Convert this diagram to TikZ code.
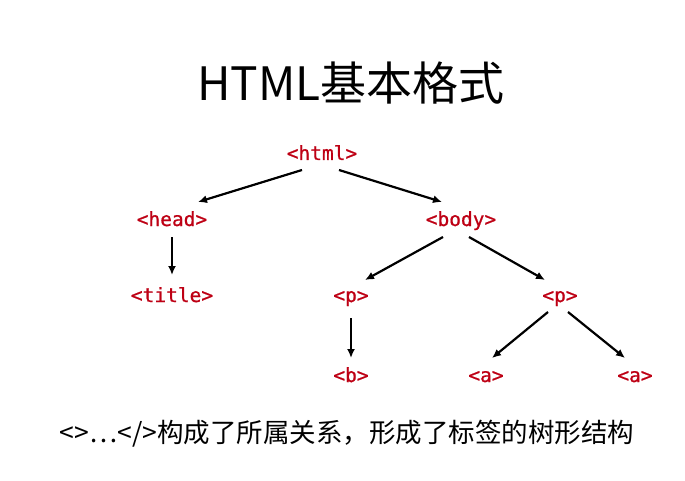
\documentclass[tikz,border=0pt]{standalone}
\usepackage{fontspec}
\setmainfont{Noto Sans CJK SC}
\newfontfamily\tagfont[FakeBold=0.8]{DejaVu Sans Mono}
\usetikzlibrary{arrows.meta}
\definecolor{tagred}{RGB}{190,0,20}
\begin{document}
\begin{tikzpicture}[x=1pt,y=-1pt,
  tag/.style={anchor=base,inner sep=0pt,text=tagred,font=\tagfont\fontsize{19.5}{22}\selectfont},
  arr/.style={line width=2.2pt,-{Latex[length=9pt,width=8pt]}}]
\useasboundingbox[fill=white] (0,0) rectangle (685,481);
\node[anchor=base,inner sep=0pt,font=\fontsize{46}{54}\selectfont] (ttl) at (351,101) {HTML基本格式};
\node[tag] (html) at (322,160) {<html>};
\node[tag] (head) at (172,226) {<head>};
\node[tag] (body) at (461,226) {<body>};
\node[tag] (title) at (172,302) {<title>};
\node[tag] (p1) at (351,302) {<p>};
\node[tag] (p2) at (560,302) {<p>};
\node[tag] (b) at (351,382) {<b>};
\node[tag] (a1) at (486,382) {<a>};
\node[tag] (a2) at (635,382) {<a>};
\node[anchor=base,inner sep=0pt,font=\fontsize{26.5}{32}\selectfont] (note) at (347,442) {<>…</>构成了所属关系，形成了标签的树形结构};
\draw[arr] ([shift={(-20,10)}]html.base) -- ([shift={(26,-24)}]head.base);
\draw[arr] ([shift={(17,10)}]html.base) -- ([shift={(-19,-24)}]body.base);
\draw[arr] ([shift={(0,11)}]head.base) -- ([shift={(0,-27)}]title.base);
\draw[arr] ([shift={(-18,11)}]body.base) -- ([shift={(14,-22)}]p1.base);
\draw[arr] ([shift={(8,11)}]body.base) -- ([shift={(-15,-22)}]p2.base);
\draw[arr] ([shift={(0,16)}]p1.base) -- ([shift={(0,-24)}]b.base);
\draw[arr] ([shift={(-12,10)}]p2.base) -- ([shift={(6,-24)}]a1.base);
\draw[arr] ([shift={(8,10)}]p2.base) -- ([shift={(-10,-24)}]a2.base);
\end{tikzpicture}
\end{document}
